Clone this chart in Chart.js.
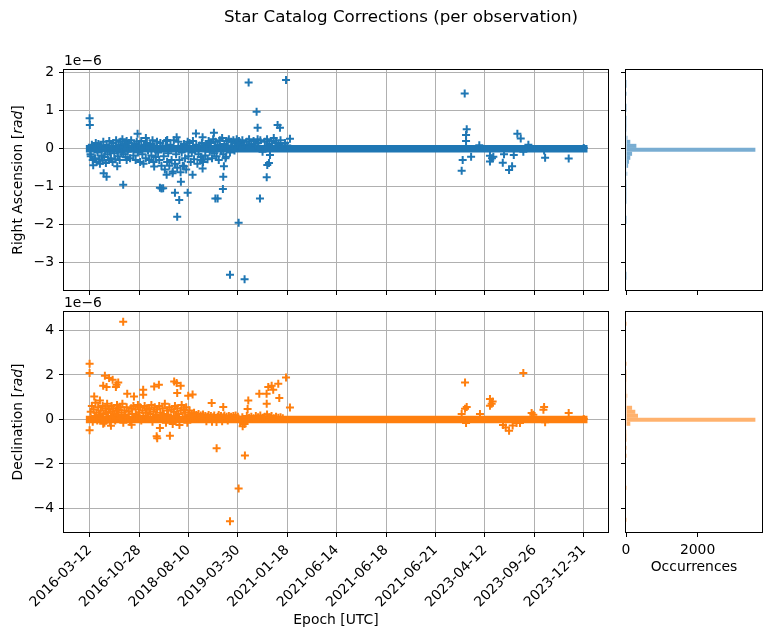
<!DOCTYPE html>
<html>
<head>
<meta charset="utf-8">
<title>Star Catalog Corrections</title>
<script src="https://cdn.jsdelivr.net/npm/chart.js@4/dist/chart.umd.min.js"></script>
<style>
  html, body { margin: 0; padding: 0; background: #fff; }
  #fig { position: relative; width: 771px; height: 638px; }
  #fig canvas { position: absolute; left: 0; top: 0; }
</style>
</head>
<body>
<div id="fig">
  <canvas id="raScatter" width="771" height="638"></canvas>
  <canvas id="raHist" width="771" height="638"></canvas>
  <canvas id="decScatter" width="771" height="638"></canvas>
  <canvas id="decHist" width="771" height="638"></canvas>
</div>
<script>
// x axis = observation index, labelled with the epoch of that observation
const epochLabels = ['2016-03-12', '2016-10-28', '2018-08-10', '2019-03-30', '2021-01-18', '2021-06-14',
                     '2021-06-18', '2021-06-21', '2023-04-12', '2023-09-26', '2023-12-31'];
const epochTickObs = [0, 440, 880, 1320, 1760, 2200, 2640, 3080, 3520, 3960, 4400];

// observations whose correction is ~0 (they pile up into a solid band)
const flatSpan = [0, 4400];

// [observation, correction in 1e-6 rad] - right ascension
const raCorrections = [
  [0, 0.80], [2, 0.62], [8, -0.15], [32, -0.44], [125, -0.65], [151, -0.74], [246, -0.46], [299, -0.95],
  [330, -0.30], [427, 0.39], [501, 0.28], [575, -0.47], [626, -1.03], [640, -1.05], [655, -1.04], [686, -0.69],
  [691, 0.23], [739, -0.65], [760, -1.16], [775, 0.30], [780, -1.79], [798, -1.35], [813, -0.87], [840, -0.46],
  [873, -1.16], [873, 0.18], [917, -0.69], [947, 0.40], [997, -0.30], [1006, -0.52], [1006, 0.30], [1107, 0.42],
  [1120, -1.31], [1140, -1.31], [1187, -1.06], [1190, -0.74], [1196, -0.46], [1214, -0.21], [1250, -3.32],
  [1327, -1.95], [1380, -3.44], [1416, 1.74], [1487, 0.97], [1496, 0.55], [1496, 0.25], [1517, -1.31],
  [1577, -0.75], [1582, -0.43], [1597, -0.38], [1606, -0.17], [1674, 0.62], [1695, 0.55], [1749, 1.81], [1784, 0.26],
  [3340, 1.45], [3358, 0.51], [3352, 0.36], [3352, 0.20], [3322, -0.30], [3397, -0.21], [3313, -0.58], [3470, 0.09],
  [3565, -0.19], [3583, -0.25], [3565, -0.34], [3595, -0.21], [3679, -0.37], [3690, -0.15], [3735, -0.56],
  [3762, -0.46], [3777, -0.17], [3809, 0.39], [3839, 0.27], [3862, -0.08], [3907, 0.10], [4056, -0.24],
  [4047, -0.05], [4266, -0.26], [4400, 0.02],
  // dense early cloud
  [10, -0.20], [20, 0.10], [28, -0.30], [40, 0.05], [48, -0.25], [55, 0.15], [62, -0.35], [70, -0.10], [78, 0.12],
  [85, -0.28], [92, -0.40], [100, 0.08], [108, -0.18], [115, -0.32], [122, 0.18], [130, -0.22], [138, -0.05],
  [145, -0.38], [152, 0.10], [160, -0.15], [168, -0.30], [175, 0.20], [182, -0.08], [190, -0.25], [198, 0.05],
  [205, -0.35], [212, 0.15], [220, -0.12], [228, -0.28], [236, 0.22], [244, -0.05], [252, -0.20], [260, 0.10],
  [268, -0.30], [276, 0.18], [284, -0.10], [292, 0.25], [300, -0.15], [310, 0.12], [320, -0.22], [330, 0.20],
  [340, -0.08], [350, 0.15], [360, -0.25], [370, 0.22], [380, 0.05], [390, -0.18], [400, 0.12], [410, -0.30],
  [420, 0.18], [430, -0.10], [440, 0.08], [450, -0.35], [460, 0.20], [470, -0.15], [480, -0.40], [490, 0.10],
  [500, -0.25], [510, 0.15], [520, -0.05], [530, -0.30], [540, 0.12], [550, -0.18], [560, 0.22], [570, -0.35],
  [580, 0.05], [590, -0.22], [600, 0.18], [610, -0.10], [620, -0.30], [630, 0.15], [640, -0.45], [650, 0.08],
  [660, -0.20], [670, -0.55], [680, 0.20], [690, -0.35], [700, -0.12], [710, -0.45], [720, 0.10], [730, -0.30],
  [740, -0.60], [750, 0.22], [760, -0.40], [770, -0.15], [780, -0.50], [790, 0.18], [800, -0.30], [810, -0.62],
  [820, -0.10], [830, -0.45], [840, 0.12], [850, -0.25], [860, -0.55], [870, 0.05], [880, -0.20], [890, 0.15],
  [900, -0.35], [910, -0.10], [920, 0.20], [930, -0.28], [940, -0.05], [950, 0.10], [960, -0.40], [970, -0.15],
  [980, 0.08], [990, -0.22], [1000, 0.15], [1010, -0.35], [1020, 0.05], [1030, -0.18], [1040, 0.12], [1050, -0.28],
  [1060, 0.20], [1070, -0.08], [1080, 0.15], [1090, -0.25], [1100, 0.25], [1110, -0.12], [1120, 0.18],
  [1130, -0.20], [1140, 0.10], [1150, -0.30], [1160, 0.22], [1170, -0.05], [1180, 0.28], [1190, -0.15],
  [1200, 0.12], [1210, -0.25], [1220, 0.20], [1230, 0.05], [1240, 0.25], [1250, -0.10], [1260, 0.18], [1270, 0.08],
  [1280, 0.22], [1290, -0.05], [1300, 0.15], [1310, 0.25], [1320, 0.10], [1330, 0.20], [1340, 0.15], [1360, 0.22],
  [1380, 0.10], [1400, 0.18], [1420, 0.25], [1440, 0.12], [1460, 0.20], [1480, 0.08], [1500, 0.15], [1520, 0.22],
  [1540, -0.08], [1560, 0.18], [1580, 0.25], [1600, 0.12], [1620, 0.20], [1640, 0.28], [1660, 0.15], [1680, 0.10],
  [1700, 0.22], [1720, 0.05], [1740, 0.15], [1760, 0.08]
];

// [observation, correction in 1e-6 rad] - declination
const decCorrections = [
  [0, 2.50], [0, 2.09], [0, -0.49], [41, 1.03], [121, 1.51], [121, -0.19], [136, 1.96], [151, 1.46], [174, 1.86],
  [190, -0.28], [205, 1.78], [234, 1.46], [240, 1.56], [255, 1.66], [299, 4.39], [335, 1.15], [374, -0.24],
  [395, 1.03], [477, 1.33], [477, 1.11], [575, 1.48], [597, -0.76], [602, -0.84], [617, 1.56], [626, -0.39],
  [715, -0.73], [753, 1.71], [775, 1.64], [780, 1.19], [811, 1.51], [878, 1.07], [917, 1.12], [1087, 0.74],
  [1131, -1.30], [1190, 0.56], [1250, -4.58], [1327, -3.10], [1363, -0.31], [1383, -1.62], [1407, 0.47],
  [1413, 0.85], [1511, 1.15], [1576, 1.15], [1577, 0.71], [1591, 1.46], [1621, 1.51], [1635, 1.33], [1680, 1.60],
  [1689, 0.96], [1749, 1.89], [1784, 0.54],
  [3313, 0.24], [3343, 1.66], [3343, 0.48], [3352, -0.16], [3358, 0.56], [3476, 0.24], [3565, 0.92], [3589, 0.81],
  [3565, 0.62], [3580, 0.71], [3681, -0.25], [3705, -0.36], [3735, -0.51], [3767, -0.27], [3802, -0.16],
  [3832, -0.16], [3862, 2.09], [3936, 0.29], [3951, 0.21], [4047, 0.56], [4041, 0.44], [4056, -0.13], [4266, 0.29],
  [4400, 0.02],
  // dense early cloud
  [10, 0.35], [20, 0.60], [28, -0.10], [36, 0.45], [45, 0.15], [52, 0.75], [60, 0.30], [68, -0.05], [76, 0.55],
  [84, 0.20], [92, 0.85], [100, 0.40], [108, 0.05], [116, 0.60], [124, 0.25], [132, -0.15], [140, 0.50], [148, 0.30],
  [156, 0.70], [164, 0.10], [172, 0.45], [180, -0.10], [188, 0.35], [196, 0.60], [204, 0.15], [212, 0.50],
  [220, 0.25], [228, -0.05], [236, 0.40], [244, 0.65], [252, 0.20], [260, 0.45], [268, 0.05], [276, 0.55],
  [284, 0.30], [292, 0.70], [300, -0.15], [310, 0.40], [320, 0.20], [330, 0.55], [340, 0.10], [350, 0.35],
  [360, -0.10], [370, 0.50], [380, 0.25], [390, 0.60], [400, 0.05], [410, 0.45], [420, 0.20], [430, 0.65],
  [440, 0.30], [450, 0.55], [460, -0.05], [470, 0.40], [480, 0.15], [490, 0.60], [500, 0.30], [510, 0.50],
  [520, 0.10], [530, 0.45], [540, 0.25], [550, 0.65], [560, -0.10], [570, 0.35], [580, 0.55], [590, 0.20],
  [600, 0.45], [610, 0.05], [620, 0.60], [630, 0.30], [640, 0.15], [650, 0.50], [660, 0.25], [670, 0.70],
  [680, -0.15], [690, 0.40], [700, 0.20], [710, 0.55], [720, 0.10], [730, 0.45], [740, -0.20], [750, 0.35],
  [760, 0.60], [770, 0.15], [780, 0.50], [790, 0.25], [800, -0.25], [810, 0.40], [820, 0.65], [830, 0.10],
  [840, 0.45], [850, 0.30], [860, 0.55], [870, -0.15], [880, 0.20], [890, 0.40], [900, 0.10], [910, 0.25],
  [920, 0.15], [930, 0.30], [940, 0.05], [950, 0.20], [960, 0.10], [970, 0.25], [980, 0.05], [990, 0.18],
  [1000, 0.10], [1010, 0.22], [1020, 0.05], [1030, 0.15], [1040, -0.08], [1050, 0.12], [1060, 0.20], [1070, 0.05],
  [1080, 0.15], [1090, -0.10], [1100, 0.10], [1110, 0.18], [1120, 0.05], [1130, -0.12], [1140, 0.12], [1150, 0.20],
  [1160, 0.05], [1170, 0.15], [1180, -0.08], [1190, 0.10], [1200, 0.18], [1210, 0.05], [1220, 0.12], [1230, -0.05],
  [1240, 0.15], [1250, 0.08], [1260, 0.12], [1270, 0.05], [1280, 0.15], [1290, 0.08], [1300, 0.18], [1310, 0.05],
  [1320, 0.12], [1340, -0.12], [1360, 0.10], [1380, -0.20], [1400, 0.15], [1420, 0.08], [1440, 0.12], [1460, 0.05],
  [1480, 0.15], [1500, 0.10], [1520, 0.18], [1540, 0.08], [1560, 0.12], [1580, 0.22], [1600, 0.10], [1620, 0.15],
  [1640, 0.05], [1660, 0.12], [1680, 0.08], [1700, 0.10], [1720, 0.05]
];

// histograms: 50 bins between the given limits (1e-6 rad)
const raHistRange = [-3.45, 1.81];
const raHistCounts = [1, 1, 0, 0, 0, 0, 0, 0, 0, 0,
                      0, 0, 0, 0, 1, 1, 0, 0, 0, 3,
                      4, 3, 4, 4, 6, 12, 35, 10, 60, 85,
                      120, 170, 3615, 290, 120, 40, 10, 4, 2, 3,
                      1, 0, 1, 1, 0, 0, 1, 0, 1, 2];
const decHistRange = [-4.60, 4.39];
const decHistCounts = [1, 0, 0, 0, 0, 0, 0, 0, 1, 0,
                       0, 0, 0, 0, 0, 0, 1, 0, 1, 0,
                       2, 3, 6, 15, 120, 3615, 335, 260, 170, 8,
                       6, 35, 8, 10, 10, 5, 3, 3, 0, 1,
                       0, 0, 0, 0, 0, 0, 0, 0, 0, 1];

const raTicks = [-3, -2, -1, 0, 1, 2];
const decTicks = [-4, -2, 0, 2, 4];
const occTicks = [0, 2000];

const C0 = '#1f77b4', C1 = '#ff7f0e';
const GRID = '#b0b0b0';
const FONT = 'DejaVu Sans';
const TICK_FONT = { family: FONT, size: 13.9 };

Chart.defaults.font.family = FONT;
Chart.defaults.color = '#000';

const minus = v => String(v).replace('-', '\u2212');
const toPoints = pairs => pairs.map(p => ({ x: p[0], y: p[1] }));
function histBars(range, counts) {
  const w = (range[1] - range[0]) / counts.length;
  return counts.map((c, i) => ({ x: c, y: range[0] + (i + 0.5) * w }));
}

// axes box: chart area [l..r] x [t..b]; yw / xh = room kept for the axis labels
function box(l, t, r, b, yw, xh) {
  return { padding: { left: l - yw, top: t, right: 771 - r, bottom: 638 - b - xh }, yw, xh };
}

// black box around every axes
const frame = {
  id: 'frame',
  afterDraw(chart) {
    const a = chart.chartArea, ctx = chart.ctx;
    ctx.save();
    ctx.strokeStyle = '#000';
    ctx.lineWidth = 1;
    ctx.strokeRect(a.left - 0.5, a.top - 0.5, a.right - a.left + 1, a.bottom - a.top + 1);
    ctx.restore();
  }
};

function vlabel(ctx, parts, x, y) {
  const fonts = ['13.9px "' + FONT + '"', 'italic 13.9px "' + FONT + '"', '13.9px "' + FONT + '"'];
  let total = 0;
  const widths = parts.map((p, i) => { ctx.font = fonts[i]; const w = ctx.measureText(p).width; total += w; return w; });
  ctx.save();
  ctx.translate(x, y);
  ctx.rotate(-Math.PI / 2);
  ctx.textAlign = 'left';
  let cx = -total / 2;
  parts.forEach((p, i) => { ctx.font = fonts[i]; ctx.fillText(p, cx, 0); cx += widths[i]; });
  ctx.restore();
}

// figure-level texts
const figureText = {
  id: 'figureText',
  afterDraw(chart) {
    const ctx = chart.ctx;
    ctx.save();
    ctx.fillStyle = '#000';
    ctx.textBaseline = 'middle';
    ctx.textAlign = 'center';
    ctx.font = '16.7px "' + FONT + '"';
    ctx.fillText('Star Catalog Corrections (per observation)', 401, 18);
    ctx.font = '13.9px "' + FONT + '"';
    ctx.fillText('Epoch [UTC]', 336, 620);
    ctx.fillText('Occurrences', 694, 567);
    ctx.textAlign = 'left';
    ctx.fillText('1e\u22126', 64, 61);
    ctx.fillText('1e\u22126', 64, 303);
    vlabel(ctx, ['Right Ascension [', 'rad', ']'], 18, 180);
    vlabel(ctx, ['Declination [', 'rad', ']'], 18, 422);
    ctx.restore();
  }
};

const tickGrid = (onArea) => ({
  drawOnChartArea: onArea, color: GRID, lineWidth: 1,
  tickColor: '#000', tickLength: 5, tickWidth: 1
});

function scatterPanel(id, pairs, color, yMin, yMax, yTicks, area, showX, extraPlugins) {
  return new Chart(document.getElementById(id), {
    type: 'scatter',
    data: {
      datasets: [
        { data: toPoints(pairs), pointStyle: 'cross', pointRadius: 4, pointHoverRadius: 4,
          borderWidth: 2, borderColor: color, backgroundColor: color },
        { type: 'line', data: flatSpan.map(o => ({ x: o, y: 0 })), borderColor: color, borderWidth: 7.5,
          borderCapStyle: 'square', pointRadius: 0, fill: false }
      ]
    },
    options: {
      responsive: false, animation: false, devicePixelRatio: 1, events: [],
      layout: { padding: area.padding },
      plugins: { legend: { display: false }, tooltip: { enabled: false } },
      scales: {
        x: {
          type: 'linear', min: -228, max: 4616, z: 1,
          afterFit: s => { s.height = area.xh; },
          afterBuildTicks: s => { s.ticks = epochTickObs.map(v => ({ value: v })); },
          grid: tickGrid(true), border: { display: false },
          ticks: { display: showX, autoSkip: false, maxRotation: 45, minRotation: 45, padding: 5,
                   font: TICK_FONT, color: '#000', callback: (v, i) => epochLabels[i] }
        },
        y: {
          type: 'linear', min: yMin, max: yMax, z: 1,
          afterFit: s => { s.width = area.yw; },
          afterBuildTicks: s => { s.ticks = yTicks.map(v => ({ value: v })); },
          grid: tickGrid(true), border: { display: false },
          ticks: { padding: 5, font: TICK_FONT, color: '#000', callback: v => minus(v) }
        }
      }
    },
    plugins: [frame].concat(extraPlugins || [])
  });
}

function histPanel(id, range, counts, fill, yMin, yMax, yTicks, area, showX) {
  return new Chart(document.getElementById(id), {
    type: 'bar',
    data: {
      datasets: [{ data: histBars(range, counts), backgroundColor: fill, borderWidth: 0, inflateAmount: 0,
                   barPercentage: 1, categoryPercentage: 1 }]
    },
    options: {
      indexAxis: 'y',
      responsive: false, animation: false, devicePixelRatio: 1, events: [],
      layout: { padding: area.padding },
      plugins: { legend: { display: false }, tooltip: { enabled: false } },
      scales: {
        x: {
          type: 'linear', min: 0, max: 3800,
          afterFit: s => { s.height = area.xh; },
          afterBuildTicks: s => { s.ticks = occTicks.map(v => ({ value: v })); },
          grid: tickGrid(false), border: { display: false },
          ticks: { display: showX, padding: 5, font: TICK_FONT, color: '#000', maxRotation: 0, minRotation: 0,
                   callback: v => String(v) }
        },
        y: {
          type: 'linear', min: yMin, max: yMax, offset: false,
          afterFit: s => { s.width = area.yw; },
          afterBuildTicks: s => { s.ticks = yTicks.map(v => ({ value: v })); },
          grid: Object.assign(tickGrid(false), { offset: false }), border: { display: false },
          ticks: { display: false }
        }
      }
    },
    plugins: [frame]
  });
}

scatterPanel('raScatter', raCorrections, C0, -3.72, 2.07, raTicks, box(64, 70, 608, 290, 64, 20), false, [figureText]);
histPanel('raHist', raHistRange, raHistCounts, 'rgba(31,119,180,0.6)', -3.72, 2.07, raTicks, box(626, 70, 762, 290, 12, 20), false);
scatterPanel('decScatter', decCorrections, C1, -5.06, 4.83, decTicks, box(64, 312, 608, 532, 64, 104), true);
histPanel('decHist', decHistRange, decHistCounts, 'rgba(255,127,14,0.6)', -5.06, 4.83, decTicks, box(626, 312, 762, 532, 12, 30), true);
</script>
</body>
</html>
